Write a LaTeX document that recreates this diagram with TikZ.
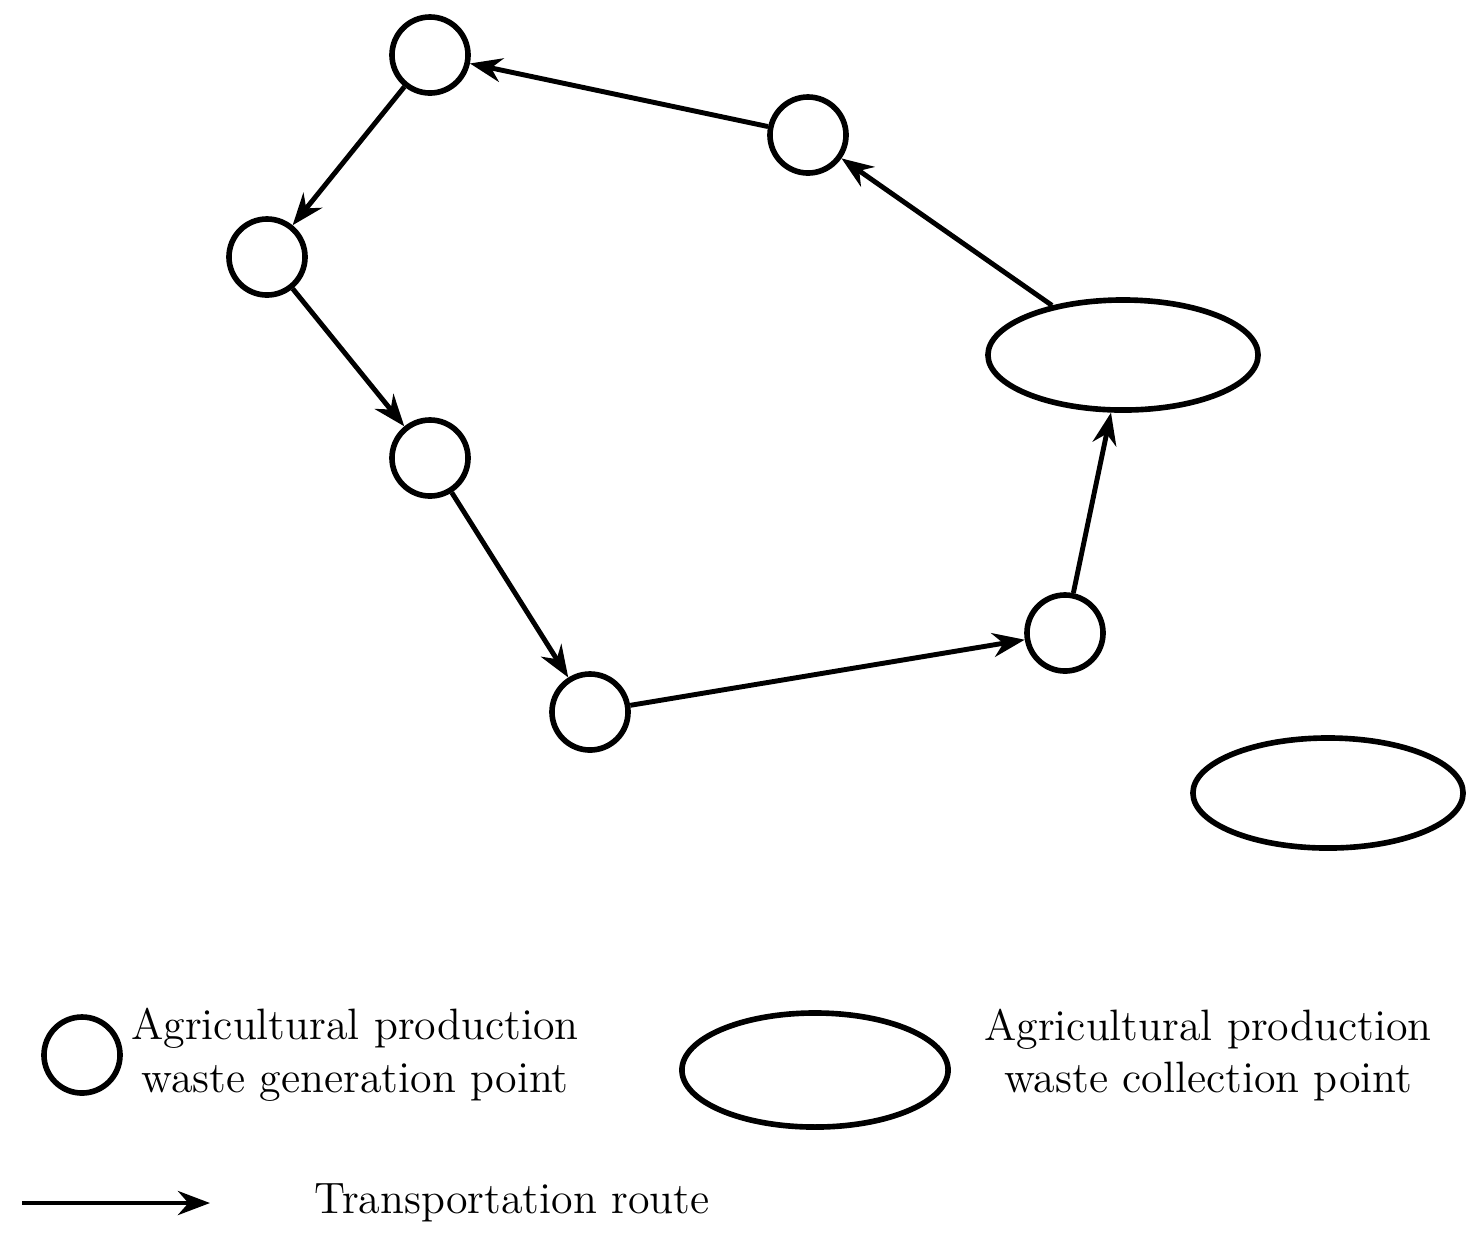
\documentclass[tikz,border=0pt]{standalone}
\usetikzlibrary{shapes.geometric, arrows, arrows.meta}
\tikzset{
  >={Stealth[length=0.32cm, width=0.24cm]}, % bold arrow heads
  gen/.style={circle, draw, line width=1.6pt, minimum size=0.76cm, inner sep=0pt}, % generation point
  col/.style={ellipse, draw, line width=1.6pt, minimum width=2.7cm, minimum height=1.1cm}, % collection point
  route/.style={->, line width=1.4pt}, % transportation route
  legend/.style={align=center, font=\fontsize{12.5}{15}\selectfont},
}
\begin{document}
\begin{tikzpicture}[x=0.01cm, y=-0.01cm]
  \useasboundingbox (0,0) rectangle (1482,1247);
  \node[gen] (p1) at (430,55) {};
  \node[gen] (p2) at (808,135) {};
  \node[gen] (p3) at (267,257) {};
  \node[gen] (p4) at (430,458) {};
  \node[gen] (p5) at (590,712) {};
  \node[gen] (p6) at (1065,633) {};
  \node[col] (c1) at (1123,355) {};
  \node[col] (c2) at (1328,793) {};

  \draw[route] (c1) -- (p2);
  \draw[route] (p2) -- (p1);
  \draw[route] (p1) -- (p3);
  \draw[route] (p3) -- (p4);
  \draw[route] (p4) -- (p5);
  \draw[route] (p5) -- (p6);
  \draw[route] (p6) -- (c1);

  % legend
  \node[gen] (lg) at (82,1055) {};
  \node[legend] (lgt) at (355,1055) {Agricultural production\\waste generation point};
  \node[col, minimum width=2.66cm, minimum height=1.14cm] (lc) at (815,1070) {};
  \node[legend] (lct) at (1208,1055) {Agricultural production\\waste collection point};
  \coordinate (la) at (22,1203);
  \coordinate (lb) at (210,1203);
  \draw[route] (la) -- (lb);
  \node[legend] (lrt) at (512,1203) {Transportation route};
\end{tikzpicture}
\end{document}
